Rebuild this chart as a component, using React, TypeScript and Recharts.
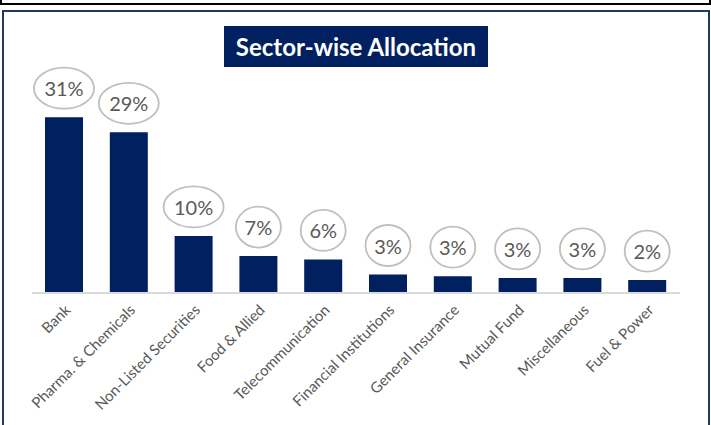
import { BarChart, Bar, XAxis, YAxis, LabelList } from 'recharts'

const sectors = [
  'Bank',
  'Pharma. & Chemicals',
  'Non-Listed Securities',
  'Food & Allied',
  'Telecommunication',
  'Financial Institutions',
  'General Insurance',
  'Mutual Fund',
  'Miscellaneous',
  'Fuel & Power',
]

const allocation = [31.4, 28.7, 10.2, 6.6, 6.0, 3.3, 3.0, 2.7, 2.7, 2.3]

const NAVY = '#002060'
const GREY_TEXT = '#595959'

const data = sectors.map((name, i) => ({ name, value: allocation[i] }))

function BubbleLabel(props: any) {
  const { x, y, width, value } = props
  const text = `${Math.round(value)}%`
  const cx = x + width / 2
  const cy = y - 29
  const rx = text.length > 2 ? 30 : 22.5
  return (
    <g>
      <ellipse cx={cx} cy={cy} rx={rx} ry={20.5} fill="#fff" stroke="#bfbfbf" strokeWidth={1.8} />
      <text
        x={cx}
        y={cy}
        textAnchor="middle"
        dominantBaseline="central"
        fontFamily="Lato, sans-serif"
        fontSize={20}
        fill={GREY_TEXT}
      >
        {text}
      </text>
    </g>
  )
}

function SectorTick(props: any) {
  const { x, y, payload } = props
  return (
    <g transform={`translate(${x + 7},${y + 10})`}>
      <text
        x={0}
        y={0}
        textAnchor="end"
        transform="rotate(-45)"
        fontFamily="Lato, sans-serif"
        fontSize={15}
        fill={GREY_TEXT}
      >
        {payload.value}
      </text>
    </g>
  )
}

export default function App() {
  return (
    <div style={{ position: 'absolute', left: 0, top: 0, width: 711, height: 425, overflow: 'hidden', background: '#fff' }}>
      {/* thin black rule along the top edge */}
      <div style={{ position: 'absolute', left: 0, top: 3, width: 711, height: 2, background: '#000' }} />
      <div style={{ position: 'absolute', left: 0, top: 0, width: 2, height: 5, background: '#000' }} />
      <div style={{ position: 'absolute', left: 709, top: 0, width: 2, height: 5, background: '#000' }} />
      {/* chart frame */}
      <div
        style={{
          position: 'absolute',
          left: 2,
          top: 10,
          width: 708,
          height: 430,
          border: '2px solid #1f3864',
          boxSizing: 'border-box',
        }}
      />
      <div style={{ position: 'absolute', left: 0, top: 0 }}>
        <BarChart width={711} height={425} data={data} margin={{ top: 97, right: 31, bottom: 0, left: 32 }}>
          <YAxis hide domain={[0, 35]} />
          <XAxis
            dataKey="name"
            interval={0}
            height={132}
            tickLine={false}
            axisLine={{ stroke: '#d9d9d9', strokeWidth: 2 }}
            tick={<SectorTick />}
          />
          <Bar dataKey="value" fill={NAVY} barSize={38} isAnimationActive={false}>
            <LabelList dataKey="value" content={<BubbleLabel />} />
          </Bar>
        </BarChart>
      </div>
      <div
        style={{
          position: 'absolute',
          left: 224,
          top: 26,
          width: 264,
          height: 41,
          background: NAVY,
          color: '#fff',
          fontFamily: 'Lato, sans-serif',
          fontWeight: 700,
          fontSize: 24,
          lineHeight: '41px',
          textAlign: 'center',
        }}
      >
        Sector-wise Allocation
      </div>
    </div>
  )
}
